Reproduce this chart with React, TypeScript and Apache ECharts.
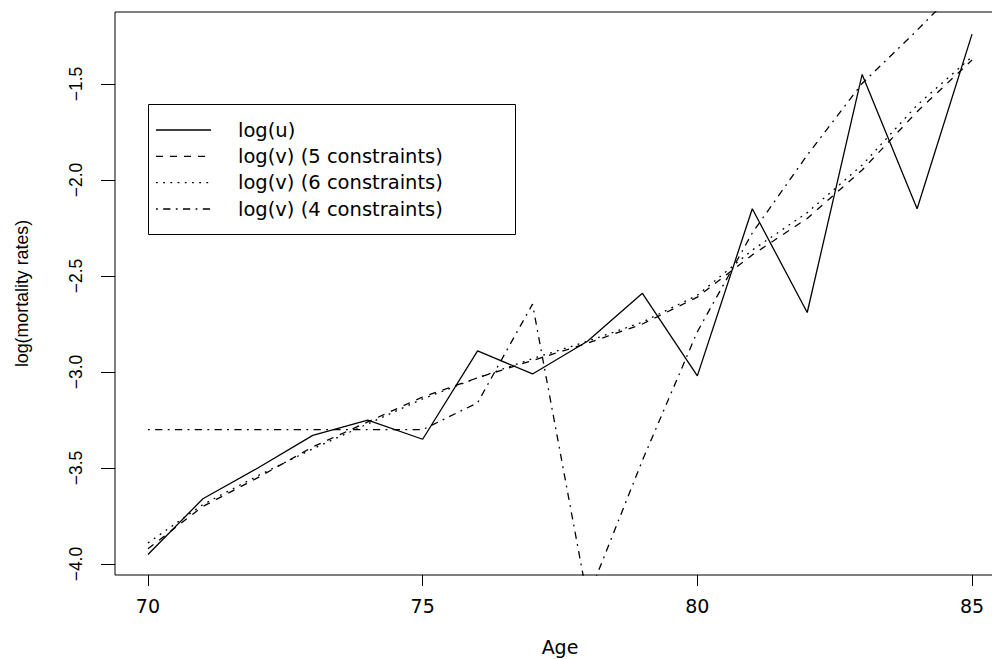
import React, { useEffect, useRef } from "react";
import * as echarts from "echarts";

// Ages on the horizontal axis
const ages = [70, 71, 72, 73, 74, 75, 76, 77, 78, 79, 80, 81, 82, 83, 84, 85];

// Crude log mortality rates
const logU = [-3.95, -3.66, -3.5, -3.33, -3.25, -3.35, -2.89, -3.01, -2.84, -2.59, -3.02, -2.15, -2.69, -1.45, -2.15, -1.24];
// Graduated log rates under 5, 6 and 4 constraints
const logV5 = [-3.92, -3.7, -3.55, -3.39, -3.26, -3.13, -3.03, -2.94, -2.85, -2.75, -2.61, -2.39, -2.2, -1.948, -1.644, -1.375];
const logV6 = [-3.89, -3.69, -3.54, -3.4, -3.27, -3.14, -3.03, -2.93, -2.84, -2.74, -2.6, -2.365, -2.17, -1.922, -1.61, -1.358];
const logV4 = [-3.3, -3.3, -3.3, -3.3, -3.3, -3.3, -3.16, -2.646, -4.18, -3.46, -2.79, -2.276, -1.87, -1.497, -1.22, -0.93];

const xTicks = [70, 75, 80, 85];
const yTicks = [-4.0, -3.5, -3.0, -2.5, -2.0, -1.5];

const seriesNames = [
  "log(u)",
  "log(v) (5 constraints)",
  "log(v) (6 constraints)",
  "log(v) (4 constraints)",
];

// R-style line types: solid, dashed, dotted, dot-dash
const dashes: (number[] | "solid")[] = ["solid", [7, 7], [1.8, 5.4], [1.8, 5.4, 7.2, 5.4]];

const pairs = (ys: number[]) => ages.map((a, i) => [a, ys[i]]);

export default function App() {
  const ref = useRef<HTMLDivElement>(null);

  useEffect(() => {
    if (!ref.current) return;
    const chart = echarts.init(ref.current, null, { renderer: "svg" });
    const seriesData = [logU, logV5, logV6, logV4];

    const legendX = 148.5;
    const legendY = 104.5;
    const rowY = [130, 156.3, 182.6, 209];
    const legendItems: any[] = [
      {
        type: "rect",
        shape: { x: legendX, y: legendY, width: 367, height: 130 },
        style: { fill: "#fff", stroke: "#000", lineWidth: 1 },
        z: 100,
      },
    ];
    seriesNames.forEach((name, i) => {
      legendItems.push({
        type: "line",
        shape: { x1: 156, y1: rowY[i], x2: 211, y2: rowY[i] },
        style: {
          stroke: "#000",
          lineWidth: 1.3,
          lineDash: dashes[i] === "solid" ? null : dashes[i],
        },
        z: 101,
      });
      legendItems.push({
        type: "text",
        x: 238,
        y: rowY[i],
        style: {
          text: name,
          fill: "#000",
          font: '19.5px "DejaVu Sans"',
          textVerticalAlign: "middle",
          verticalAlign: "middle",
        },
        z: 101,
      });
    });

    chart.setOption({
      animation: false,
      backgroundColor: "#fff",
      grid: {
        left: 115,
        top: 12,
        width: 890,
        height: 563,
        outerBoundsMode: "none",
        containLabel: false,
        show: true,
        borderColor: "#000",
        borderWidth: 1,
        backgroundColor: "transparent",
      },
      xAxis: {
        type: "value",
        min: 69.4,
        max: 85.6,
        splitLine: { show: false },
        axisLine: { show: false },
        axisTick: { show: true, customValues: xTicks, length: 11, lineStyle: { color: "#000", width: 1 } },
        axisLabel: {
          customValues: xTicks,
          color: "#000",
          fontFamily: "DejaVu Sans",
          fontSize: 19,
          margin: 21,
        },
        name: "Age",
        nameLocation: "middle",
        nameGap: 62,
        nameTextStyle: { color: "#000", fontFamily: "DejaVu Sans", fontSize: 19 },
      },
      yAxis: {
        type: "value",
        min: -4.057,
        max: -1.125,
        splitLine: { show: false },
        axisLine: { show: false },
        axisTick: { show: true, customValues: yTicks, length: 14, lineStyle: { color: "#000", width: 1 } },
        axisLabel: {
          customValues: yTicks,
          rotate: 90,
          color: "#000",
          fontFamily: "Liberation Sans",
          fontSize: 17.5,
          margin: 30,
          formatter: (v: number) => (v < 0 ? "\u2212" : "") + Math.abs(v).toFixed(1),
        },
        name: "log(mortality rates)",
        nameLocation: "middle",
        nameGap: 84,
        nameTextStyle: { color: "#000", fontFamily: "Liberation Sans", fontSize: 17.8 },
      },
      series: seriesData.map((ys, i) => ({
        type: "line",
        name: seriesNames[i],
        data: pairs(ys),
        showSymbol: false,
        symbol: "none",
        clip: true,
        lineStyle: { color: "#000", width: 1.3, type: dashes[i] },
        z: 4 - i,
      })),
      graphic: legendItems,
    });

    return () => chart.dispose();
  }, []);

  return (
    <div
      ref={ref}
      style={{ position: "absolute", left: 0, top: 0, width: 992, height: 659, background: "#fff" }}
    />
  );
}
